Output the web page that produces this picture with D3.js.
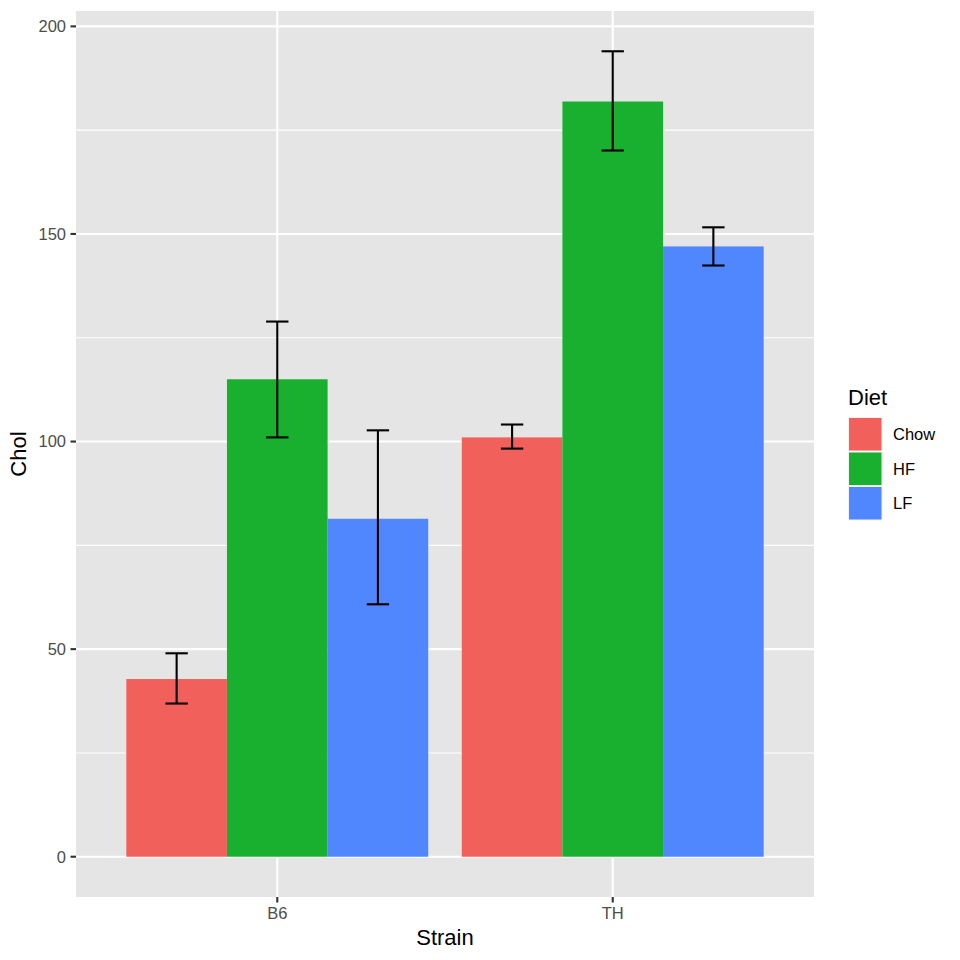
<!DOCTYPE html>
<html>
<head>
<meta charset="utf-8">
<script src="https://cdn.jsdelivr.net/npm/d3@7"></script>
<style>
  body { margin: 0; background: #fff; }
  svg { display: block; font-family: "Liberation Sans", Arial, Helvetica, sans-serif; }
</style>
</head>
<body>
<svg id="chart" width="960" height="960"></svg>
<script>
// 数据
const strains = ["B6", "TH"];
const diets = ["Chow", "HF", "LF"];
const dietColors = ["#F2605C", "#1AB02F", "#5087FF"];
const cholMean = [
  [42.8, 115.0, 81.4],   // B6
  [101.0, 181.9, 147.0]  // TH
];
const cholLow = [
  [36.9, 101.0, 60.8],
  [98.3, 170.1, 142.4]
];
const cholHigh = [
  [49.0, 128.9, 102.7],
  [104.1, 194.0, 151.6]
];
const yTicks = [0, 50, 100, 150, 200];
const yMinorTicks = [25, 75, 125, 175];

const rows = [];
strains.forEach((s, i) => {
  diets.forEach((d, j) => {
    rows.push({ strain: s, diet: d, mean: cholMean[i][j], low: cholLow[i][j], high: cholHigh[i][j], k: j });
  });
});

const svg = d3.select("#chart");

// 面板范围
const panel = { left: 76, right: 814, top: 11, bottom: 897 };

// y 轴：ggplot 默认 5% 扩展
const yMax = d3.max(rows, d => d.high);
const pad = yMax * 0.05;
const y = d3.scaleLinear()
  .domain([-pad, yMax + pad])
  .range([panel.bottom, panel.top]);

// x 轴：离散，左右各扩 0.6
const x = d3.scaleLinear()
  .domain([0.4, strains.length + 0.6])
  .range([panel.left, panel.right]);
const unit = x(1) - x(0);
const groupWidth = 0.9;
const barW = groupWidth / diets.length;

// 背景
svg.append("rect")
  .attr("x", panel.left).attr("y", panel.top)
  .attr("width", panel.right - panel.left)
  .attr("height", panel.bottom - panel.top)
  .attr("fill", "#E5E5E5");

// 网格线
svg.selectAll(".minor")
  .data(yMinorTicks)
  .enter().append("line")
  .attr("x1", panel.left).attr("x2", panel.right)
  .attr("y1", d => y(d)).attr("y2", d => y(d))
  .attr("stroke", "#fff").attr("stroke-width", 1.1);

svg.selectAll(".majorY")
  .data(yTicks)
  .enter().append("line")
  .attr("x1", panel.left).attr("x2", panel.right)
  .attr("y1", d => y(d)).attr("y2", d => y(d))
  .attr("stroke", "#fff").attr("stroke-width", 2.1);

svg.selectAll(".majorX")
  .data(strains)
  .enter().append("line")
  .attr("x1", (d, i) => x(i + 1)).attr("x2", (d, i) => x(i + 1))
  .attr("y1", panel.top).attr("y2", panel.bottom)
  .attr("stroke", "#fff").attr("stroke-width", 2.1);

// 柱子
const colorOf = d3.scaleOrdinal().domain(diets).range(dietColors);
const barX = d => x(strains.indexOf(d.strain) + 1 - groupWidth / 2 + d.k * barW);

svg.selectAll(".bar")
  .data(rows)
  .enter().append("rect")
  .attr("x", barX)
  .attr("width", barW * unit)
  .attr("y", d => y(d.mean))
  .attr("height", d => y(0) - y(d.mean))
  .attr("fill", d => colorOf(d.diet));

// 误差线
const capW = 0.2 / diets.length;
const eb = svg.selectAll(".err")
  .data(rows)
  .enter().append("g")
  .attr("stroke", "#000").attr("stroke-width", 2.1);
const cx = d => barX(d) + barW * unit / 2;
eb.append("line")
  .attr("x1", cx).attr("x2", cx)
  .attr("y1", d => y(d.low)).attr("y2", d => y(d.high));
eb.append("line")
  .attr("x1", d => cx(d) - capW * unit / 2).attr("x2", d => cx(d) + capW * unit / 2)
  .attr("y1", d => y(d.low)).attr("y2", d => y(d.low));
eb.append("line")
  .attr("x1", d => cx(d) - capW * unit / 2).attr("x2", d => cx(d) + capW * unit / 2)
  .attr("y1", d => y(d.high)).attr("y2", d => y(d.high));

// y 轴刻度
svg.selectAll(".ytick")
  .data(yTicks)
  .enter().append("line")
  .attr("x1", panel.left - 5.5).attr("x2", panel.left)
  .attr("y1", d => y(d)).attr("y2", d => y(d))
  .attr("stroke", "#333").attr("stroke-width", 2.1);

svg.selectAll(".ylab")
  .data(yTicks)
  .enter().append("text")
  .attr("x", panel.left - 10)
  .attr("y", d => y(d))
  .attr("dy", "0.35em")
  .attr("text-anchor", "end")
  .attr("font-size", 16.5)
  .attr("fill", "#4D4D4D")
  .text(d => d);

// x 轴刻度
svg.selectAll(".xtick")
  .data(strains)
  .enter().append("line")
  .attr("x1", (d, i) => x(i + 1)).attr("x2", (d, i) => x(i + 1))
  .attr("y1", panel.bottom).attr("y2", panel.bottom + 5.5)
  .attr("stroke", "#333").attr("stroke-width", 2.1);

svg.selectAll(".xlab")
  .data(strains)
  .enter().append("text")
  .attr("x", (d, i) => x(i + 1))
  .attr("y", panel.bottom + 22)
  .attr("text-anchor", "middle")
  .attr("font-size", 16.5)
  .attr("fill", "#4D4D4D")
  .text(d => d);

// 轴标题
svg.append("text")
  .attr("x", (panel.left + panel.right) / 2)
  .attr("y", 945)
  .attr("text-anchor", "middle")
  .attr("font-size", 22)
  .attr("fill", "#000")
  .text("Strain");

svg.append("text")
  .attr("transform", `translate(26,${(panel.top + panel.bottom) / 2}) rotate(-90)`)
  .attr("text-anchor", "middle")
  .attr("font-size", 22)
  .attr("fill", "#000")
  .text("Chol");

// 图例
const legend = svg.append("g").attr("transform", "translate(848,0)");
legend.append("text")
  .attr("x", 0).attr("y", 405)
  .attr("font-size", 22)
  .attr("fill", "#000")
  .text("Diet");

const keys = legend.selectAll(".key")
  .data(diets)
  .enter().append("g")
  .attr("transform", (d, i) => `translate(0,${417 + i * 34.5})`);
keys.append("rect")
  .attr("x", 0).attr("y", 0)
  .attr("width", 34.5).attr("height", 34.5)
  .attr("fill", "#F2F2F2");
keys.append("rect")
  .attr("x", 1).attr("y", 1)
  .attr("width", 32.5).attr("height", 32.5)
  .attr("fill", d => colorOf(d));
keys.append("text")
  .attr("x", 45).attr("y", 17.25)
  .attr("dy", "0.35em")
  .attr("font-size", 16.5)
  .attr("fill", "#000")
  .text(d => d);
</script>
</body>
</html>
